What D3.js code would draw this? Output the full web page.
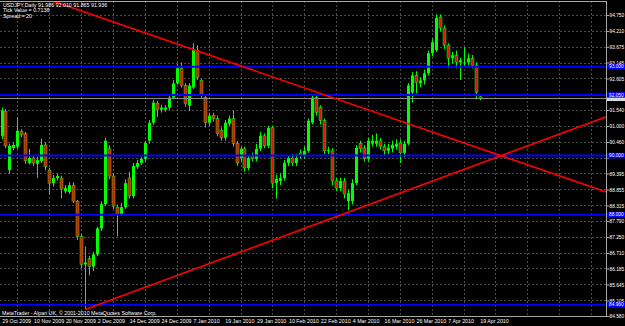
<!DOCTYPE html>
<html><head><meta charset="utf-8">
<script src="https://cdn.jsdelivr.net/npm/d3@7"></script>
<style>html,body{margin:0;padding:0;background:#000;overflow:hidden}</style>
</head><body>
<svg id="c" width="625" height="326"></svg>
<script>
// ---------- data ----------
const symbolTitle = "USDJPY,Daily";
const lastQuote = ["91.986", "92.010", "91.865", "91.936"];
const infoLines = ["Tick Value = 0.7138", "Spread = 20"];
const copyright = "MetaTrader - Alpari UK, \u00a9 2001-2010 MetaQuotes Software Corp.";
const dateLabels = ["29 Oct 2009","10 Nov 2009","20 Nov 2009","2 Dec 2009","14 Dec 2009","24 Dec 2009",
  "7 Jan 2010","19 Jan 2010","29 Jan 2010","10 Feb 2010","22 Feb 2010","4 Mar 2010","16 Mar 2010",
  "26 Mar 2010","7 Apr 2010","19 Apr 2010"];
const dateLabelBars = [0,8,16,24,32,40,48,56,64,72,80,88,96,104,112,120];
const gridBars = [4,12,20,28,36,44,52,60,68,76,84,92,100,108,116,124,132,140,148];
const priceTicks = [94.750,94.210,93.675,93.145,92.605,92.070,91.540,91.000,90.460,89.925,
  89.395,88.855,88.315,87.790,87.250,86.710,86.185,85.645,85.105,84.580];

const opens = [90.67,91.49,89.51,90.26,90.30,90.81,90.74,89.75,89.92,89.72,
  89.82,90.36,89.51,89.07,89.24,89.24,88.80,88.77,89.00,88.46,
  87.27,86.32,86.52,86.25,86.66,87.54,88.36,90.23,89.31,88.26,
  88.02,88.26,89.24,88.63,89.62,89.75,89.89,90.50,91.11,91.76,
  91.55,91.55,91.62,91.96,92.44,92.95,92.37,91.69,92.30,93.56,
  92.54,91.96,91.11,91.35,91.25,90.84,90.60,91.08,91.25,90.40,
  89.92,90.23,89.58,89.99,89.89,90.23,90.67,90.33,90.94,89.07,
  89.14,89.24,89.75,89.92,89.75,90.09,89.99,90.16,91.11,91.96,
  91.62,91.18,90.16,90.16,89.14,88.90,89.14,88.46,88.46,89.07,
  90.40,90.26,89.89,90.40,90.40,90.50,90.30,90.16,90.23,90.30,
  90.43,90.09,90.40,92.13,92.71,92.44,92.54,92.78,93.46,93.56,
  94.68,94.31,93.73,93.29,93.39,93.15,93.12,93.15,93.29,93.05,
  91.986];
const highs = [91.62,91.58,90.40,90.45,91.28,90.90,90.80,90.23,90.00,89.95,
  90.57,90.45,89.60,89.35,89.40,89.32,89.00,89.10,89.10,88.50,
  87.35,86.93,86.60,86.75,87.60,88.45,90.60,90.35,89.40,88.35,
  88.40,89.20,89.45,89.75,89.85,89.95,90.50,91.20,91.88,91.85,
  91.72,91.70,92.05,92.55,93.10,93.15,92.45,92.45,93.80,93.73,
  92.60,92.05,91.45,91.45,91.35,90.95,91.20,91.35,91.52,90.50,
  90.30,90.30,90.00,90.10,90.40,90.80,90.75,91.00,91.00,89.35,
  89.40,89.85,90.00,90.05,90.05,90.20,90.30,91.25,92.05,92.05,
  91.70,91.25,90.30,90.25,89.25,89.25,89.25,88.85,89.20,90.35,
  90.50,90.35,90.60,90.70,90.75,90.60,90.40,90.40,90.50,90.55,
  90.55,90.50,92.45,92.82,92.85,92.65,92.90,93.55,93.95,94.77,
  94.77,94.40,93.80,93.50,93.55,93.30,93.66,93.45,93.40,93.15,
  92.010];
const lows = [90.55,90.25,89.38,90.18,90.22,90.62,89.72,89.70,89.65,89.24,
  89.75,89.50,88.70,88.95,89.15,88.56,88.72,88.70,88.40,87.15,
  86.20,84.82,85.95,86.10,86.60,87.45,88.30,89.20,88.20,87.27,
  87.95,88.20,88.55,88.55,89.55,89.68,89.80,90.40,91.05,91.30,
  91.45,91.48,91.55,91.90,92.40,92.30,91.65,91.50,92.25,92.55,
  91.95,90.95,91.00,91.15,90.65,90.50,90.50,91.00,90.30,89.65,
  89.80,89.45,89.50,89.80,89.80,90.15,90.25,90.25,88.90,88.55,
  89.00,89.15,89.65,89.65,89.65,89.90,89.90,90.10,91.05,91.35,
  91.05,90.05,90.05,89.00,88.80,88.80,88.55,88.15,88.35,89.00,
  90.10,89.80,89.80,90.30,90.30,90.20,90.00,90.05,90.10,90.20,
  89.75,89.95,90.35,91.80,92.10,92.30,92.40,92.70,93.35,93.50,
  94.20,93.60,92.95,93.10,92.95,92.55,93.00,93.05,92.95,91.90,
  91.865];
const closes = [91.52,90.33,90.33,90.36,90.84,90.70,89.82,89.92,89.75,89.85,
  90.36,89.62,89.07,89.24,89.31,88.87,88.90,89.00,88.46,87.27,
  86.32,86.39,86.25,86.66,87.54,88.36,90.50,89.31,88.29,88.02,
  88.26,89.07,88.63,89.65,89.75,89.89,90.43,91.11,91.79,91.55,
  91.62,91.62,91.96,92.44,92.95,92.37,91.76,92.37,93.56,92.64,
  92.03,91.11,91.35,91.25,90.74,90.60,91.11,91.25,90.40,89.75,
  90.23,89.58,89.92,89.89,90.23,90.67,90.33,90.94,89.07,89.21,
  89.24,89.75,89.92,89.75,89.92,89.99,90.16,91.18,91.96,91.45,
  91.18,90.16,90.19,89.14,88.90,89.14,88.70,88.73,89.07,90.26,
  90.23,89.89,90.50,90.50,90.50,90.30,90.16,90.26,90.36,90.40,
  90.09,90.40,92.37,92.71,92.47,92.54,92.78,93.46,93.83,94.65,
  94.31,93.73,93.29,93.39,93.15,93.22,93.15,93.29,93.05,92.13,
  91.936];

const levelPrices = [93.000, 92.050, 90.000, 88.000, 84.960];
const bidPrice = 91.936;
// trend lines: anchor points (bar index, price)
const trendLineA = [{i: 12, p: 95.26}, {i: 152, p: 88.76}];
const trendLineB = [{i: 21, p: 84.80}, {i: 152, p: 91.32}];

// ---------- layout ----------
const W = 625, H = 326;
const plotL = 0, plotR = 606, plotT = 1, plotB = 316;
const FONT = "'Liberation Sans', Arial, sans-serif";
const FS = "5.3px";
const FSA = "4.8px";

const svg = d3.select("#c");
svg.append("rect").attr("width", W).attr("height", H).attr("fill", "#000");

const x = d3.scaleLinear().domain([0, 120]).range([1.5, 479.5]);
const y = d3.scaleLinear().domain([84.58, 94.75]).range([316, 15]);
const px = v => Math.round(v) + 0.5;

svg.append("defs").append("clipPath").attr("id", "plotclip")
  .append("rect").attr("x", plotL).attr("y", plotT).attr("width", plotR - plotL).attr("height", plotB - plotT);

// grid
const grid = svg.append("g").attr("stroke", "#4a4a4a").attr("stroke-width", 1).attr("stroke-dasharray", "2,2");
grid.selectAll("line.h").data(priceTicks).join("line").attr("class", "h")
  .attr("x1", plotL).attr("x2", plotR).attr("y1", d => px(y(d))).attr("y2", d => px(y(d)));
grid.selectAll("line.v").data(gridBars.filter(b => x(b) < plotR)).join("line").attr("class", "v")
  .attr("y1", plotT).attr("y2", plotB).attr("x1", d => px(x(d))).attr("x2", d => px(x(d)));

// candles
const bars = opens.map((o, i) => ({i, o, h: highs[i], l: lows[i], c: closes[i]}));
const cg = svg.append("g").attr("clip-path", "url(#plotclip)");
cg.selectAll("line.wick").data(bars).join("line").attr("class", "wick")
  .attr("x1", d => px(x(d.i))).attr("x2", d => px(x(d.i)))
  .attr("y1", d => y(d.h)).attr("y2", d => y(d.l))
  .attr("stroke", "#00ff00").attr("stroke-width", 1);
cg.selectAll("rect.body").data(bars).join("rect").attr("class", "body")
  .attr("x", d => Math.round(x(d.i)) - 1)
  .attr("width", 3)
  .attr("y", d => y(Math.max(d.o, d.c)))
  .attr("height", d => Math.max(1, Math.abs(y(d.o) - y(d.c))))
  .attr("fill", d => d.c >= d.o ? "#00ff00" : "#e01010")
  .attr("stroke", d => d.c >= d.o ? "none" : "#00ff00")
  .attr("stroke-width", 0.5);

// horizontal levels and bid line
const og = svg.append("g").attr("clip-path", "url(#plotclip)");
og.append("line").attr("x1", plotL).attr("x2", plotR)
  .attr("y1", px(y(bidPrice))).attr("y2", px(y(bidPrice)))
  .attr("stroke", "#8c8c8c").attr("stroke-width", 1);
og.selectAll("line.lvl").data(levelPrices).join("line").attr("class", "lvl")
  .attr("x1", plotL).attr("x2", plotR).attr("y1", d => y(d)).attr("y2", d => y(d))
  .attr("stroke", "#0000ff").attr("stroke-width", 2);

// trend lines
const tl = d3.line().x(d => x(d.i)).y(d => y(d.p));
og.selectAll("path.trend").data([trendLineA, trendLineB]).join("path").attr("class", "trend")
  .attr("d", tl).attr("fill", "none").attr("stroke", "#ff0000").attr("stroke-width", 1.6);

// frame
svg.append("rect").attr("x", plotL - 1).attr("y", plotT + 0.5).attr("width", plotR - plotL + 1.5).attr("height", plotB - plotT)
  .attr("fill", "none").attr("stroke", "#a8a8a8").attr("stroke-width", 1);

// price axis (labels hidden where a level box covers them, as in the terminal)
const lblW = 19, lblH = 5.5;
const covered = t => levelPrices.some(l => Math.abs(y(l) - y(t)) < 3);
const ya = d3.axisRight(y).tickValues(priceTicks)
  .tickFormat(t => covered(t) ? "" : d3.format(".3f")(t)).tickSize(3).tickPadding(0);
const yaG = svg.append("g").attr("transform", `translate(${plotR + 0.5},0)`).call(ya);
yaG.select(".domain").remove();
yaG.selectAll(".tick line").attr("stroke", "#a8a8a8");
yaG.selectAll(".tick text").attr("fill", "#ffffff").style("font-family", FONT).style("font-size", FSA);

// bid marker (mostly hidden under the level box) then level labels
svg.append("rect").attr("x", plotR + 1).attr("y", y(bidPrice) - lblH / 2).attr("width", lblW).attr("height", lblH)
  .attr("fill", "#d8d8d8");
const lg = svg.append("g");
lg.selectAll("rect").data(levelPrices).join("rect")
  .attr("x", plotR + 1).attr("y", d => y(d) - lblH / 2).attr("width", lblW).attr("height", lblH).attr("fill", "#0000ff");
lg.selectAll("text").data(levelPrices).join("text")
  .attr("x", plotR + 3).attr("y", d => y(d) + 1.7).text(d => d3.format(".3f")(d))
  .attr("fill", "#ffffff").style("font-family", FONT).style("font-size", FSA);

// date axis
const xa = d3.axisBottom(x).tickValues(dateLabelBars).tickFormat((d, k) => dateLabels[k]).tickSize(0).tickPadding(0);
const xaG = svg.append("g").attr("transform", `translate(0,${plotB + 3})`).call(xa);
xaG.select(".domain").remove();
xaG.selectAll(".tick text").attr("text-anchor", "start").attr("dx", "0.2").attr("dy", "0.75em")
  .attr("fill", "#ffffff").style("font-family", FONT).style("font-size", FS);

// header
const hdr = svg.append("g").style("font-family", FONT).style("font-size", FS).attr("fill", "#ffffff");
hdr.append("text").attr("x", 3).attr("y", 6.5).text(symbolTitle + "  " + lastQuote.join(" "));
hdr.selectAll("text.info").data(infoLines).join("text").attr("class", "info")
  .attr("x", 3).attr("y", (d, k) => 12.3 + k * 5.8).text(d => d);
svg.append("text").attr("x", 2).attr("y", 314.5).text(copyright)
  .attr("fill", "#ffffff").style("font-family", FONT).style("font-size", FS);
</script>
</body></html>
